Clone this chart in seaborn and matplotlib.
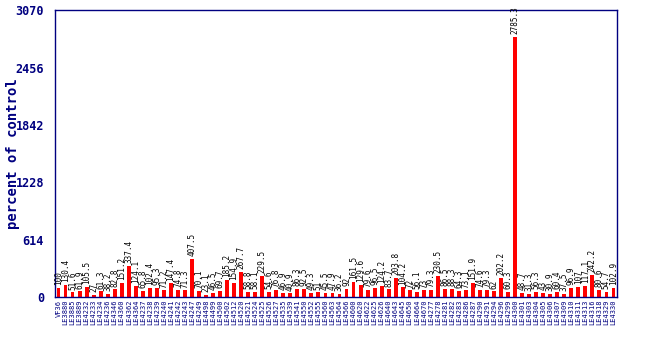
import matplotlib
matplotlib.use("Agg")
import matplotlib.pyplot as plt
import seaborn as sns
import pandas as pd

samples = [
    "VF36", "LE3880", "LE3885", "LE3889", "LE4232", "LE4233", "LE4234", "LE4236",
    "LE4346", "LE4360", "LE4362", "LE4364", "LE4237", "LE4238", "LE4239", "LE4240",
    "LE4241", "LE4242", "LE4243", "LE4247", "LE4249", "LE4498", "LE4499", "LE4500",
    "LE4502", "LE4512", "LE4520", "LE4521", "LE4524", "LE4525", "LE4526", "LE4527",
    "LE4535", "LE4539", "LE4541", "LE4550", "LE4552", "LE4555", "LE4560", "LE4563",
    "LE4564", "LE4566", "LE4600", "LE4620", "LE4622", "LE4625", "LE4626", "LE4640",
    "LE4643", "LE4645", "LE4650", "LE4664", "LE4670", "LE4277", "LE4278", "LE4281",
    "LE4282", "LE4283", "LE4286", "LE4287", "LE4290", "LE4291", "LE4294", "LE4296",
    "LE4299", "LE4300", "LE4301", "LE4303", "LE4304", "LE4305", "LE4306", "LE4307",
    "LE4309", "LE4310", "LE4311", "LE4313", "LE4316", "LE4318", "LE4329", "LE4330",
]

percent = [
    100, 130.4, 51.6, 61.9, 105.5, 27, 61.3, 38.2, 82.8, 151.2,
    337.4, 124.1, 65.8, 102.4, 95.3, 71.2, 147.4, 74.8, 71.3, 407.5,
    70.1, 23.1, 46.5, 69.7, 185.2, 154.9, 267.7, 58.8, 58.1, 229.5,
    54.6, 76.8, 46.9, 40.9, 86.3, 92.5, 49.3, 51, 45.5, 47.9,
    36.2, 92, 161.5, 129.6, 79.6, 96.5, 124.2, 83.7, 203.8, 104.2,
    72, 56.1, 73, 79.3, 230.5, 86.5, 88.3, 64.3, 73.1, 151.9,
    74.6, 79.3, 62, 202.2, 60.3, 2785.3, 48.7, 31.3, 56.3, 43,
    30.9, 60.4, 37.5, 96.9, 107, 117.1, 242.2, 80.6, 54.7, 102.9,
]

y_ticks = [0, 614, 1228, 1842, 2456, 3070]

navy = "#000080"
df = pd.DataFrame({"sample": samples, "percent": percent})

sns.set_style("white")
plt.rcParams["font.family"] = ["DejaVu Sans Mono", "DejaVu Sans"]

fig = plt.figure(figsize=(6.5, 3.5), dpi=100)
ax = fig.add_axes([0.0846, 0.151, 0.8646, 0.820])

sns.barplot(data=df, x="sample", y="percent", order=samples, color="#ff0000",
            saturation=1, width=0.55, ax=ax, edgecolor="none")

# value printed above each bar
for bar, val in zip(ax.patches, percent):
    ax.text(bar.get_x() + bar.get_width() / 2, bar.get_height() + 30, f"{val:g}",
            rotation=90, ha="center", va="bottom", fontsize=5.5, color="black",
            clip_on=False)

ax.set_xlim(-0.5, len(samples) - 0.5)
ax.set_ylim(0, 3070)
ax.set_yticks(y_ticks)
ax.set_yticklabels([str(t) for t in y_ticks], fontsize=8.5, fontweight="bold",
                   color=navy)
ax.set_xticks(range(len(samples)))
ax.set_xticklabels(samples, rotation=90, fontsize=5, color=navy)
ax.tick_params(axis="y", length=5, width=1, color=navy, direction="out", pad=3)
ax.tick_params(axis="x", length=0, pad=2)
ax.set_xlabel("")
ax.set_ylabel("percent of control", fontsize=10, fontweight="bold", color=navy)
ax.yaxis.set_label_coords(-0.062, 0.5)

for side in ["left", "right", "top", "bottom"]:
    ax.spines[side].set_visible(True)
    ax.spines[side].set_color(navy)
    ax.spines[side].set_linewidth(1)

fig.savefig("out.png", dpi=100)
